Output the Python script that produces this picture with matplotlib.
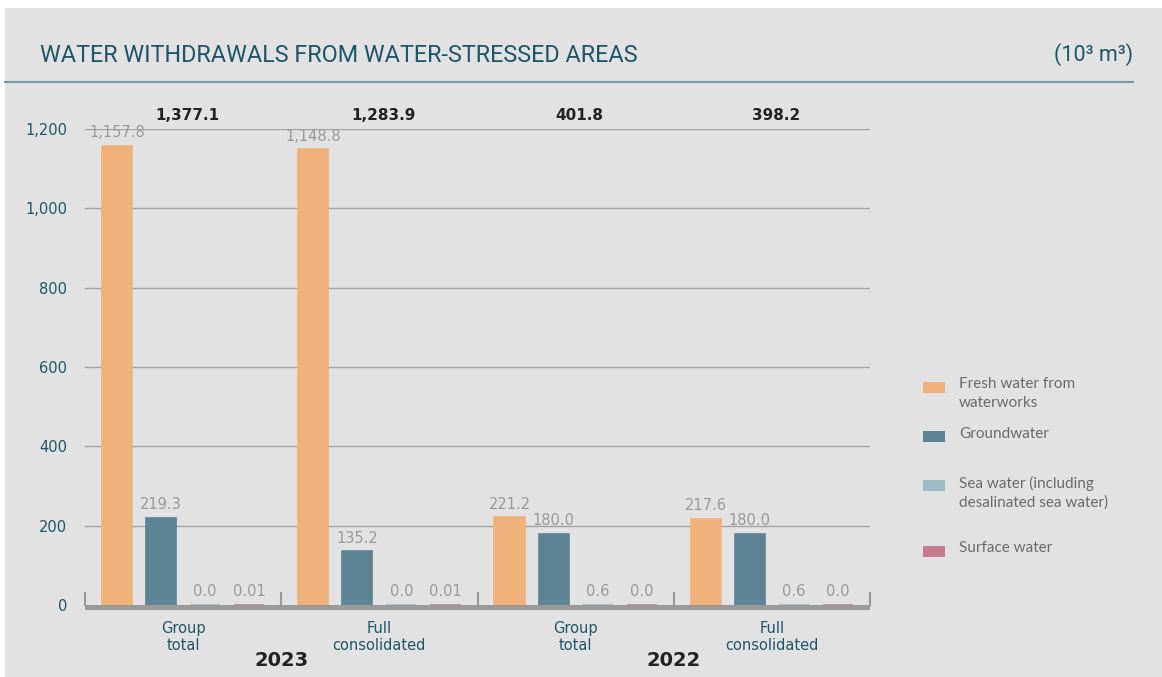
import matplotlib
matplotlib.use("Agg")
import matplotlib.pyplot as plt
from matplotlib.patches import Rectangle
import numpy as np

# DATA
groups = ["Group\ntotal", "Full\nconsolidated", "Group\ntotal", "Full\nconsolidated"]
years = ["2023", "2022"]
totals = ["1,377.1", "1,283.9", "401.8", "398.2"]
fresh = [1157.8, 1148.8, 221.2, 217.6]
ground = [219.3, 135.2, 180.0, 180.0]
sea = [0.0, 0.0, 0.6, 0.6]
surface = [0.01, 0.01, 0.0, 0.0]
fresh_lbl = ["1,157.8", "1,148.8", "221.2", "217.6"]
ground_lbl = ["219.3", "135.2", "180.0", "180.0"]
sea_lbl = ["0.0", "0.0", "0.6", "0.6"]
surface_lbl = ["0.01", "0.01", "0.0", "0.0"]
series_names = ["Fresh water from\nwaterworks", "Groundwater",
                "Sea water (including\ndesalinated sea water)", "Surface water"]
yticks = [0, 200, 400, 600, 800, 1000, 1200]

# STYLE
bg = "#e1e2e1"
teal = "#1f5568"
colors = ["#f0b27a", "#5e8394", "#9dbac5", "#c47a8c"]
W, H = 1162, 677
num_font = ["DejaVu Sans"]

plt.rcParams['font.family'] = ['Roboto', 'DejaVu Sans']

fig = plt.figure(figsize=(W / 100, H / 100), dpi=100)
fig.patch.set_facecolor("white")
# gray panel (white margin top / left)
fig.add_artist(Rectangle((5 / W, 0), 1, 1 - 8 / H, transform=fig.transFigure,
                         facecolor=bg, edgecolor="none", zorder=-10))

ax = fig.add_axes([85 / W, 72 / H, 785 / W, 476 / H])
ax.set_facecolor("none")
ax.set_xlim(0, 4)
ax.set_ylim(0, 1200)

x = np.arange(4) + 0.5
width = 0.153
offsets = [-0.337, -0.112, 0.112, 0.337]
all_series = [fresh, ground, sea, surface]
all_labels = [fresh_lbl, ground_lbl, sea_lbl, surface_lbl]

for vals, lbls, off, c in zip(all_series, all_labels, offsets, colors):
    ax.bar(x + off, vals, width, color=c, edgecolor=c, linewidth=1.2, zorder=3)
    for xi, v, t in zip(x + off, vals, lbls):
        ax.annotate(t, (xi, v), xytext=(0, 4), textcoords="offset points",
                    ha="center", va="bottom", fontsize=10.5, color="#9a9a9a",
                    family=num_font, zorder=4)

# gridlines
for yt in yticks[1:]:
    ax.axhline(yt, color="#a3a3a3", linewidth=1.0, zorder=1)

# baseline and group ticks
ax.add_patch(Rectangle((0, -0.011), 4, 0.011, transform=ax.get_xaxis_transform(),
                       facecolor="#9a9a9a", edgecolor="none", clip_on=False, zorder=2))
for b in range(5):
    ax.plot([b, b], [0, 0.025], transform=ax.get_xaxis_transform(),
            color="#9a9a9a", linewidth=1.5, clip_on=False, zorder=2)

for sp in ax.spines.values():
    sp.set_visible(False)
ax.set_yticks(yticks)
ax.set_yticklabels([f"{v:,}" for v in yticks], color=teal, fontsize=10.5,
                   family=num_font)
ax.tick_params(axis="y", length=0, pad=13)
ax.set_xticks([])

# totals
for xi, t in zip(x, totals):
    ax.text(xi + 0.02, 1235, t, ha="center", va="center", fontsize=11,
            fontweight="bold", color="#222222", family=num_font)

# group labels
for xi, g in zip(x, groups):
    ax.text(xi, -0.033, g, transform=ax.get_xaxis_transform(), ha="center", va="top",
            fontsize=10.5, color=teal, linespacing=1.2, family=num_font)
for i, yr in enumerate(years):
    ax.text(1 + 2 * i, -0.097, yr, transform=ax.get_xaxis_transform(), ha="center",
            va="top", fontsize=14, fontweight="bold", color="#222222", family=num_font)

# title and unit
fig.text(40 / W, 1 - 55 / H, "WATER WITHDRAWALS FROM WATER-STRESSED AREAS",
         ha="left", va="center", fontsize=16.8, color=teal)
fig.text(1133 / W, 1 - 55 / H, "(10³ m³)", ha="right", va="center",
         fontsize=15.5, color=teal)
fig.add_artist(plt.Line2D([5 / W, 1133 / W], [1 - 82 / H, 1 - 82 / H],
                          transform=fig.transFigure, color="#7a98a2", linewidth=1.5))

# legend
leg_y = [387, 436, 485, 551]
for yy, c, name in zip(leg_y, colors, series_names):
    fig.add_artist(Rectangle((923 / W, 1 - (yy + 5.5) / H), 22 / W, 11 / H,
                             transform=fig.transFigure, facecolor=c, edgecolor="none"))
    fig.text(959 / W, 1 - (yy - 9.5) / H, name, ha="left", va="top", fontsize=11,
             color="#6a6a6a", family=["Lato", "DejaVu Sans"], linespacing=1.4)

fig.savefig("out.png", dpi=100, facecolor=fig.get_facecolor())
